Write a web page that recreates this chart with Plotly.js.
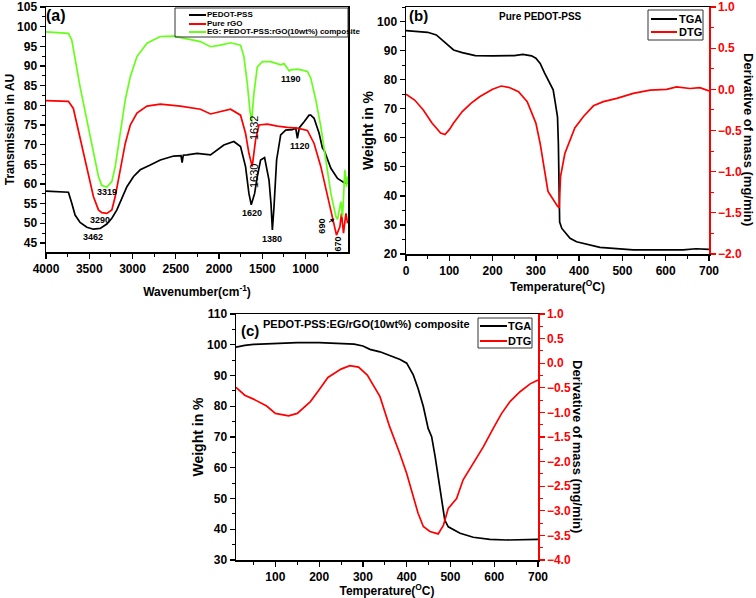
<!DOCTYPE html>
<html>
<head>
<meta charset="utf-8">
<script src="https://cdn.plot.ly/plotly-3.0.1.min.js"></script>
<style>html,body{margin:0;padding:0;background:#fff}#chart{width:756px;height:598px}</style>
</head>
<body>
<div id="chart"></div>
<script>
// ---------- Panel (a): FTIR ----------
const wnPedot = [4000,3741,3702,3664,3606,3528,3452,3374,3297,3239,3181,3123,3065,2988,2911,2795,2679,2525,2440,2427,2414,2370,2253,2099,1945,1829,1752,1694,1655,1628,1589,1558,1520,1474,1423,1400,1384,1365,1335,1288,1230,1153,1114,1095,1072,1017,960,940,902,844,805,786,708,631,554,515];
const trPedot = [58.2,57.9,55.1,52.1,50.2,49.0,48.5,48.7,49.8,51.3,53.4,56.4,59.3,61.9,63.6,64.8,66.1,67.1,67.2,65.4,67.3,67.4,67.8,67.4,69.9,70.8,69.5,64.4,57.6,54.7,57.6,61.9,66.1,66.7,61.0,55.0,48.3,54.2,66.1,72.5,73.7,73.8,74.2,71.6,74.3,75.8,77.5,77.5,76.7,72.9,69.1,68.6,64.0,61.4,60.3,60.2];

const wnRgo = [4000,3741,3684,3626,3568,3510,3452,3394,3355,3297,3239,3200,3142,3084,3026,2949,2833,2679,2447,2215,2099,1960,1867,1752,1694,1655,1617,1578,1539,1442,1326,1210,1095,979,902,824,747,689,643,604,585,562,534,515];
const trRgo = [81.2,81.0,79.2,73.7,67.8,61.9,56.8,53.4,52.7,52.5,53.4,56.8,63.6,70.3,75.0,78.0,79.8,80.3,79.8,79.0,77.8,78.6,79.0,77.5,72.9,67.8,64.4,71.2,75.0,75.2,74.7,74.4,74.2,73.6,70.3,64.4,56.8,50.8,47.0,49.1,52.5,47.5,52.5,50.0];

const wnComp = [4000,3741,3702,3664,3606,3528,3452,3394,3355,3297,3239,3200,3142,3084,3026,2949,2833,2679,2525,2331,2215,2099,1983,1867,1752,1713,1674,1644,1624,1597,1558,1500,1404,1288,1250,1210,1190,1172,1095,1030,979,940,882,824,766,708,650,631,592,573,546,527,515];
const trComp = [98.7,98.3,96.6,91.5,84.7,76.3,67.8,61.9,59.6,59.2,60.6,64.4,72.9,81.4,87.3,92.4,95.8,97.5,97.6,96.8,96.2,94.9,95.3,95.9,95.3,92.4,85.6,78.8,75.8,83.1,89.8,91.1,91.1,90.3,90.6,89.4,88.7,89.0,89.2,88.9,88.6,86.9,81.4,74.6,66.1,57.6,51.7,51.0,55.5,51.7,63.6,59.3,61.9];

const seriesNamesA = ["PEDOT-PSS", "Pure rGO", "EG: PEDOT-PSS:rGO(10wt%) composite"];
const peakLabels = ["3319","3290","3462","1620","1380","1630","1632","1120","1190","670"];
const peakWn     = [3297, 3374, 3459, 1624, 1384, 1590, 1597, 1068, 1172, 620];
const peakTr     = [57.9, 50.8, 46.4, 52.7, 46.0, 61.9, 74.2, 69.7, 86.7, 44.7];
const arrowLabel = "690", arrowTipWn = 655, arrowTipTr = 51.3;

// ---------- Panel (b): Pure PEDOT-PSS ----------
const tgaTempB = [0,50,70,90,100,110,130,160,200,250,270,290,300,310,320,330,340,345,350,352,355,360,379,394,448,525,640,670,700];
const tgaWtB   = [96.9,96.3,95.4,92.8,91.4,90.2,89.3,88.3,88.2,88.3,88.7,88.2,87.4,85.6,82.3,79.4,76.5,71.9,67.2,58.0,31.0,28.8,25.4,24.2,22.3,21.4,21.4,21.8,21.6];
const dtgTempB = [0,20,40,60,80,90,100,110,130,150,170,200,220,240,260,280,300,310,320,328,333,344,350,354,357,367,390,410,433,456,487,525,564,602,625,656,679,700];
const dtgValB  = [-0.06,-0.13,-0.25,-0.41,-0.53,-0.55,-0.49,-0.41,-0.27,-0.17,-0.09,0.0,0.04,0.02,-0.03,-0.15,-0.41,-0.66,-0.98,-1.24,-1.28,-1.38,-1.42,-1.44,-1.06,-0.78,-0.47,-0.33,-0.20,-0.15,-0.11,-0.05,-0.01,0.00,0.03,0.01,0.02,-0.02];

// ---------- Panel (c): PEDOT-PSS:EG/rGO composite ----------
const tgaTempC = [10,30,50,100,150,200,250,280,300,316,339,357,369,385,400,415,426,438,449,457,465,472,480,487,495,522,552,590,628,660,697,700];
const tgaWtC   = [99.2,99.8,100.1,100.5,100.7,100.7,100.5,100.2,99.6,98.5,97.7,96.7,96.1,95.2,94.0,90.2,85.8,79.9,72.8,70.1,63.6,57.1,51.0,43.0,40.8,38.7,37.4,36.7,36.5,36.5,36.6,36.7];
const dtgTempC = [10,30,50,80,100,130,150,180,200,220,250,270,290,310,339,361,384,400,415,426,438,453,472,484,495,514,529,552,575,598,617,636,659,682,700];
const dtgValC  = [-0.49,-0.65,-0.73,-0.87,-1.02,-1.07,-1.02,-0.78,-0.54,-0.29,-0.12,-0.05,-0.08,-0.24,-0.68,-1.29,-1.83,-2.24,-2.71,-3.05,-3.32,-3.42,-3.47,-3.29,-2.95,-2.75,-2.37,-2.03,-1.70,-1.32,-1.02,-0.78,-0.58,-0.42,-0.34];

const legendNamesTG = ["TGA", "DTG"];
const derivTitle = "Derivative of mass (mg/min)";

// ---------- styling / layout ----------
const F = "Liberation Sans, Arial, sans-serif";
const W = 756, H = 598;
const fx = p => p / W, fy = p => 1 - p / H;
const BLACK = "#000000", RED = "#ff0000", GREEN = "#66ff1a";
const LW = 1.7;

function axis(extra, color) {
  color = color || BLACK;
  return Object.assign({
    showline: true, linecolor: color, linewidth: 1.5,
    ticks: "outside", ticklen: 5, tickwidth: 1.3, tickcolor: color,
    showgrid: false, zeroline: false, fixedrange: true,
    tickfont: {family: F, size: 12, color: color, weight: "bold"}
  }, extra);
}
function minor(dtick, color) {
  return {ticks: "outside", ticklen: 3, tickwidth: 1, tickcolor: color || BLACK, dtick: dtick, tick0: 0, showgrid: false};
}
function ttl(text, size, standoff) {
  return {text: text, standoff: standoff, font: {family: F, size: size, color: BLACK, weight: "bold"}};
}

const traces = [
  {x: wnPedot, y: trPedot, name: seriesNamesA[0], xaxis: "x", yaxis: "y", line: {color: BLACK, width: LW}},
  {x: wnRgo, y: trRgo, name: seriesNamesA[1], xaxis: "x", yaxis: "y", line: {color: RED, width: LW}},
  {x: wnComp, y: trComp, name: seriesNamesA[2], xaxis: "x", yaxis: "y", line: {color: GREEN, width: LW}},
  {x: tgaTempB, y: tgaWtB, name: legendNamesTG[0], xaxis: "x2", yaxis: "y2", line: {color: BLACK, width: LW}},
  {x: dtgTempB, y: dtgValB, name: legendNamesTG[1], xaxis: "x2", yaxis: "y3", line: {color: RED, width: LW}},
  {x: tgaTempC, y: tgaWtC, name: legendNamesTG[0], xaxis: "x3", yaxis: "y4", line: {color: BLACK, width: LW}},
  {x: dtgTempC, y: dtgValC, name: legendNamesTG[1], xaxis: "x3", yaxis: "y5", line: {color: RED, width: LW}}
].map(t => Object.assign(t, {type: "scatter", mode: "lines", showlegend: false, hoverinfo: "skip"}));

// compact legends drawn as swatch + text
const shapes = [];
const annotations = [];
function legendBox(box, rows, fontSize) {
  shapes.push({type: "rect", xref: "paper", yref: "paper", x0: fx(box.x0), x1: fx(box.x1), y0: fy(box.y1), y1: fy(box.y0),
    line: {color: "#333", width: 1}, fillcolor: "rgba(255,255,255,0)"});
  rows.forEach(r => {
    shapes.push({type: "line", xref: "paper", yref: "paper", x0: fx(box.l0), x1: fx(box.l1), y0: fy(r.y), y1: fy(r.y),
      line: {color: r.color, width: 2}});
    annotations.push({xref: "paper", yref: "paper", x: fx(box.tx), y: fy(r.y), xanchor: "left", yanchor: "middle",
      text: r.text, showarrow: false, font: {family: F, size: fontSize, color: BLACK, weight: "bold"}});
  });
}
legendBox({x0: 175, x1: 348, y0: 8, y1: 37, l0: 189, l1: 206, tx: 205},
  [{y: 15, color: BLACK, text: seriesNamesA[0]}, {y: 24, color: RED, text: seriesNamesA[1]}, {y: 32, color: GREEN, text: seriesNamesA[2]}], 8);
legendBox({x0: 648, x1: 703, y0: 10, y1: 40, l0: 651, l1: 677, tx: 677},
  [{y: 19, color: BLACK, text: legendNamesTG[0]}, {y: 32, color: RED, text: legendNamesTG[1]}], 11);
legendBox({x0: 478, x1: 532, y0: 318, y1: 348, l0: 480, l1: 507, tx: 506},
  [{y: 326, color: BLACK, text: legendNamesTG[0]}, {y: 341, color: RED, text: legendNamesTG[1]}], 11);

function paperText(x, y, text, size, angle) {
  annotations.push({xref: "paper", yref: "paper", x: fx(x), y: fy(y), xanchor: "center", yanchor: "middle",
    text: text, textangle: angle || 0, showarrow: false, font: {family: F, size: size, color: BLACK, weight: "bold"}});
}
paperText(56, 16, "(a)", 16);
paperText(418, 16, "(b)", 15);
paperText(250, 330, "(c)", 15);
paperText(540, 17, "Pure PEDOT-PSS", 10);
paperText(366, 324, "PEDOT-PSS:EG/rGO(10wt%) composite", 11);
// right-hand axis titles read top-to-bottom in the reference
paperText(748, 139, derivTitle, 13, 90);
paperText(577, 446, derivTitle, 13, 90);

// peak labels in panel (a)
const rotated = {"1630": true, "1632": true, "670": true};
peakLabels.forEach((lab, i) => {
  const thin = (lab === "1630" || lab === "1632");
  annotations.push({xref: "x", yref: "y", x: peakWn[i], y: peakTr[i], text: lab, showarrow: false,
    textangle: rotated[lab] ? -90 : 0, xanchor: "center", yanchor: "middle",
    font: {family: F, size: thin ? 11 : 9, color: BLACK, weight: thin ? "normal" : "bold"}});
});
annotations.push({xref: "x", yref: "y", x: arrowTipWn, y: arrowTipTr, ax: -13, ay: 8, text: arrowLabel, textangle: -90,
  showarrow: true, arrowhead: 2, arrowsize: 0.8, arrowwidth: 1, arrowcolor: BLACK, standoff: 1,
  font: {family: F, size: 9, color: BLACK, weight: "bold"}});

const layout = {
  width: W, height: H,
  margin: {l: 0, r: 0, t: 0, b: 0},
  paper_bgcolor: "#fff", plot_bgcolor: "#fff",
  font: {family: F, color: BLACK},
  showlegend: false,
  // (a)
  xaxis: axis({domain: [fx(46), fx(348)], anchor: "y", range: [4000, 510], dtick: 500, tick0: 0, mirror: true,
    minor: minor(250), title: ttl("Wavenumber(cm<sup>-1</sup>)", 12, 12)}),
  yaxis: axis({domain: [fy(252), fy(7)], anchor: "x", range: [42.7, 105], dtick: 5, tick0: 0, mirror: true,
    minor: minor(2.5), title: ttl("Transmission in AU", 12, 0)}),
  // (b)
  xaxis2: axis({domain: [fx(406), fx(709)], anchor: "y2", range: [0, 700], dtick: 100, tick0: 0, mirror: true,
    minor: minor(50), title: ttl("Temperature(<sup>O</sup>C)", 12, 0)}),
  yaxis2: axis({domain: [fy(254), fy(7)], anchor: "x2", range: [20, 105], dtick: 10, tick0: 0,
    minor: minor(5), title: ttl("Weight in %", 14, 0)}),
  yaxis3: axis({overlaying: "y2", anchor: "x2", side: "right", range: [-2, 1], dtick: 0.5, tick0: 0, tickformat: ".1f",
    minor: minor(0.25, RED)}, RED),
  // (c)
  xaxis3: axis({domain: [fx(236), fx(538)], anchor: "y4", range: [10, 700], dtick: 100, tick0: 0, mirror: true,
    minor: minor(50), title: ttl("Temperature(<sup>O</sup>C)", 12, 0)}),
  yaxis4: axis({domain: [fy(560), fy(314)], anchor: "x3", range: [30, 110], dtick: 10, tick0: 0,
    minor: minor(5), title: ttl("Weight in %", 14, 0)}),
  yaxis5: axis({overlaying: "y4", anchor: "x3", side: "right", range: [-4, 1], dtick: 0.5, tick0: 0, tickformat: ".1f",
    minor: minor(0.25, RED)}, RED),
  shapes: shapes,
  annotations: annotations
};

Plotly.newPlot("chart", traces, layout, {displayModeBar: false, staticPlot: true});
</script>
</body>
</html>
